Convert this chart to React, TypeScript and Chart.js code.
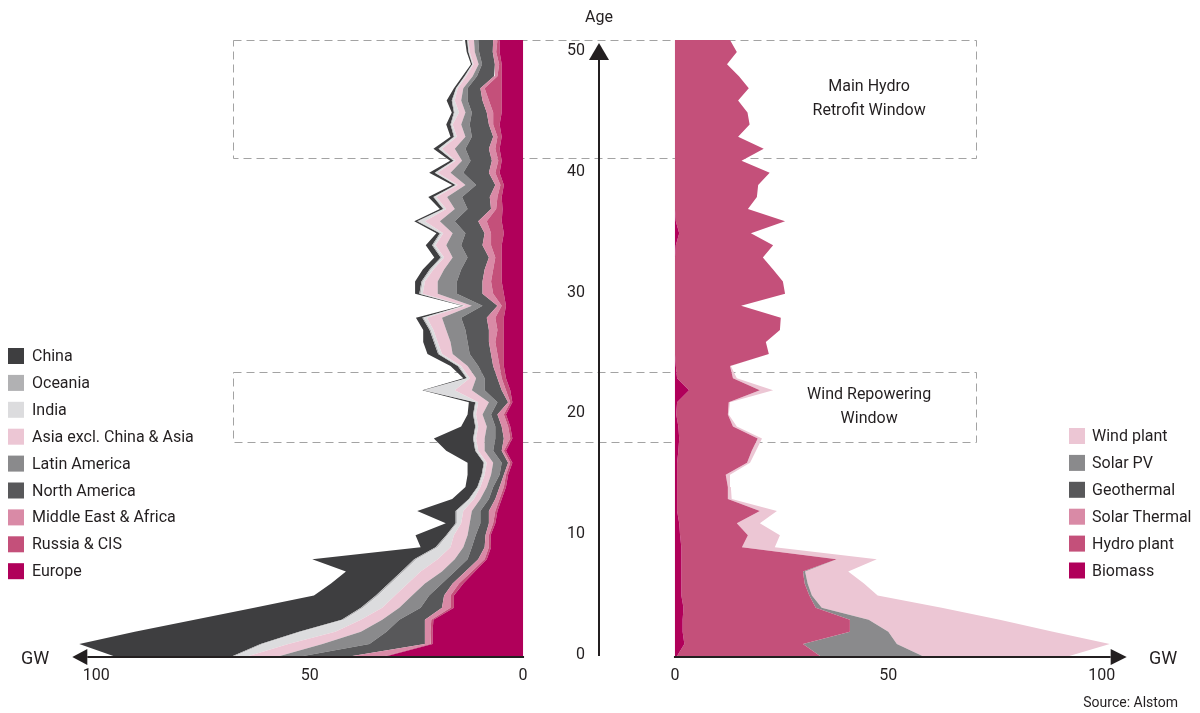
import React, { useEffect, useRef } from 'react';
import { Chart, registerables } from 'chart.js';

Chart.register(...registerables);

// ---------- data ----------
const AGES = [0, 1, 2, 3, 4, 5, 6, 7, 8, 9, 10, 11, 12, 13, 14, 15, 16, 17, 18, 19, 20, 21, 22, 23, 24, 25,
  26, 27, 28, 29, 30, 31, 32, 33, 34, 35, 36, 37, 38, 39, 40, 41, 42, 43, 44, 45, 46, 47, 48, 49, 50, 51];

const AGE_TICKS = [0, 10, 20, 30, 40, 50];
const GW_TICKS = [0, 50, 100];

// Left panel (regions), GW by age
const EUROPE = [31.8, 21.2, 21.2, 21, 16.2, 16.2, 14, 11.3, 8.5, 7.5,
  7.6, 6.5, 6, 5, 4, 3.5, 2.5, 4, 2.5, 3,
  4, 2.5, 3, 4, 4.5, 4.5, 4.5, 4.5, 4.5, 4,
  4.5, 5, 5, 5, 5, 4.5, 5, 4.8, 5, 4.5,
  5.5, 5, 5.5, 5, 5.5, 5, 5, 5, 5, 5,
  5.5, 5.5];
const RUSSIA_CIS = [0.5, 0.6, 0.5, 0.5, 0.8, 0.8, 1, 0.7, 0.5, 0.5,
  0.4, 0.5, 0.5, 0.5, 0.5, 0.5, 0.5, 0.5, 0.5, 0.5,
  0.5, 0.5, 1, 1, 1, 1.5, 2, 1.5, 2, 1,
  2.5, 2.5, 2, 1.5, 2.5, 3, 3.5, 1.5, 1, 0.8,
  1, 0.8, 1, 1, 1.5, 2, 3, 4, 1, 0.6,
  0.8, 0.5];
const MIDDLE_EAST_AFRICA = [7.7, 1.2, 1.3, 1.5, 2, 1.5, 1.5, 1.5, 1.5, 1,
  0.8, 1, 1.5, 1, 1, 0.5, 0.5, 0.5, 1.5, 1.5,
  1.5, 0.5, 1, 1, 1.5, 1.5, 1.5, 2, 2, 1,
  2.5, 2, 2, 1.5, 2, 1.5, 2, 1.2, 1.8, 1.2,
  1.5, 1.5, 1.5, 1, 1, 1.5, 1.5, 1, 0.8, 1,
  0.8, 1];
const NORTH_AMERICA = [11.5, 13, 9, 6, 5, 3.5, 2.5, 2.5, 2.5, 3,
  2.3, 2, 2, 1.5, 1.5, 1, 1.5, 2, 2, 1.5,
  1.5, 2.5, 4, 3, 3.5, 5, 5, 5.5, 6, 3.5,
  6, 6, 5.5, 5, 5, 4.5, 5.5, 5.5, 6.5, 4.5,
  6, 5, 5.5, 5, 4.5, 3.5, 3.5, 3, 4, 3,
  3.2, 3.5];
const LATIN_AMERICA = [5.5, 11, 6, 4, 5, 4, 4, 3, 3, 2,
  1.9, 2.5, 2, 2, 1.5, 2, 2, 2, 2.5, 2,
  2, 2, 3, 2, 2.5, 4, 4, 4.5, 4.5, 2.5,
  4.5, 4.5, 4, 3.5, 3.5, 3, 3.5, 3, 3.5, 2.5,
  3, 2, 2.5, 1.5, 2, 1.5, 1.5, 1, 1, 0.8,
  1, 1];
const ASIA_EXCL = [7.3, 8, 6, 5, 4, 4, 4, 5, 4, 3,
  3.2, 2, 2, 1.5, 1.5, 1.5, 1.5, 1.5, 2, 2,
  1.5, 2.5, 4, 1.5, 1.5, 2.5, 3, 3, 3.5, 1.5,
  3.5, 3, 2.5, 2, 2.5, 2.2, 3.5, 2, 2.5, 1.8,
  3, 1.5, 3, 2, 2, 1.5, 1.5, 1.3, 1.5, 1.2,
  1.2, 1.3];
const INDIA = [3.2, 6, 8, 4, 4.5, 4, 4, 4, 5, 3,
  1.5, 1, 1.5, 1, 0.5, 0.5, 0.5, 0.5, 0.5, 0.5,
  0.5, 0.5, 7, 0.5, 0.5, 0.6, 0.6, 0.6, 0.8, 0.3,
  0.5, 0.5, 0.6, 0.5, 0.5, 0.5, 1.5, 0.5, 0.5, 0.3,
  0.5, 0.3, 0.6, 0.5, 0.3, 1, 0.5, 0.3, 0.3, 0.2,
  0.2, 0.2];
const OCEANIA = [0.5, 0.5, 0.5, 0.5, 0.5, 0.5, 0.5, 0.5, 0.5, 0.5,
  0.3, 0.3, 0.3, 0.2, 0.2, 0.2, 0.2, 0.2, 0.2, 0.2,
  0.2, 0.2, 0.3, 0.2, 0.3, 0.3, 0.3, 0.3, 0.3, 0.2,
  0.3, 0.3, 0.3, 0.3, 0.3, 0.3, 0.3, 0.2, 0.2, 0.2,
  0.2, 0.2, 0.2, 0.2, 0.2, 0.2, 0.2, 0.1, 0.1, 0.1,
  0.1, 0.1];
const CHINA = [28, 42.5, 38.5, 34.5, 25, 14.5, 13.5, 13, 23.9, 3.5,
  7.2, 2.3, 9, 3.9, 2.8, 3.3, 3.8, 6.8, 9.2, 3.3,
  1.3, 1.5, 0.3, 0.8, 1.7, 2.5, 2.5, 1.5, 1.5, 0.3,
  1, 1.5, 1.6, 1.5, 1.5, 0.8, 0.7, 0.8, 1.2, 0.8,
  1.3, 0.8, 1.2, 0.8, 1, 0.5, 1.2, 0.5, 0.5, 0.3,
  0.4, 0.5];

// Right panel (technologies), GW by age
const BIOMASS = [0.5, 2.2, 1.8, 1.8, 2, 1.5, 1.5, 1.5, 1.5, 1.5,
  1.2, 1, 0.5, 0.5, 0.5, 0.5, 0.5, 0.8, 1, 0.8,
  0.3, 0.5, 3.3, 0.5, 0.2, 0, 0, 0, 0, 0,
  0, 0, 0, 0, 0.2, 1, 0.2, 0, 0, 0,
  0, 0, 0, 0, 0, 0, 0, 0, 0, 0,
  0, 0];
const HYDRO = [33.5, 27.8, 39.2, 39.2, 31, 30, 28.9, 28.5, 36.4, 14.2,
  15.9, 13.5, 19.4, 11.9, 11.9, 11.4, 16.4, 17.2, 18.4, 12.8,
  12.1, 12.1, 16.6, 13.1, 12.7, 22, 21.3, 24.6, 24.8, 15.5,
  25.8, 25.3, 23, 20.6, 22.8, 16.8, 25.6, 17.1, 19.2, 19.5,
  22.2, 15.6, 20.8, 14.8, 17.5, 17, 14.8, 17.3, 15, 12.2,
  14.5, 12.9];
const SOLAR_THERMAL = [0, 0, 0, 0, 0, 0, 0, 0, 0, 0,
  0, 0, 0, 0, 0, 0, 0, 0, 0, 0,
  0, 0, 0, 0, 0, 0, 0, 0, 0, 0,
  0, 0, 0, 0, 0, 0, 0, 0, 0, 0,
  0, 0, 0, 0, 0, 0, 0, 0, 0, 0,
  0, 0];
const GEOTHERMAL = [0, 0, 0, 0, 0, 0, 0, 0, 0, 0,
  0, 0, 0, 0, 0, 0, 0, 0, 0, 0,
  0, 0, 0, 0, 0, 0, 0, 0, 0, 0,
  0, 0, 0, 0, 0, 0, 0, 0, 0, 0,
  0, 0, 0, 0, 0, 0, 0, 0, 0, 0,
  0, 0];
const SOLAR_PV = [24, 22, 9, 4.4, 1.4, 0.6, 0.7, 0.5, 0, 0,
  0, 0, 0, 0, 0, 0, 0, 0, 0, 0,
  0, 0, 0, 0, 0, 0, 0, 0, 0, 0,
  0, 0, 0, 0, 0, 0, 0, 0, 0, 0,
  0, 0, 0, 0, 0, 0, 0, 0, 0, 0,
  0, 0];
const WIND = [34.4, 49.9, 38.6, 30.7, 28.1, 15.4, 13.2, 10.1, 9.4, 7.7,
  7.5, 5.4, 4, 0.9, 0.7, 1, 0.7, 1, 1, 0.9,
  0.2, 0.3, 3.1, 0.9, 0.2, 0, 0, 0, 0, 0,
  0, 0, 0, 0, 0, 0, 0, 0, 0, 0,
  0, 0, 0, 0, 0, 0, 0, 0, 0, 0,
  0, 0];

// Stacking order (inner -> outer)
const LEFT_LABELS = ['Europe', 'Russia & CIS', 'Middle East & Africa', 'North America', 'Latin America',
  'Asia excl. China & Asia', 'India', 'Oceania', 'China'];
const LEFT_VALUES = [EUROPE, RUSSIA_CIS, MIDDLE_EAST_AFRICA, NORTH_AMERICA, LATIN_AMERICA, ASIA_EXCL, INDIA, OCEANIA, CHINA];
const RIGHT_LABELS = ['Biomass', 'Hydro plant', 'Solar Thermal', 'Geothermal', 'Solar PV', 'Wind plant'];
const RIGHT_VALUES = [BIOMASS, HYDRO, SOLAR_THERMAL, GEOTHERMAL, SOLAR_PV, WIND];

// Annotated windows (age ranges)
const WINDOW_LABELS = [['Main Hydro', 'Retrofit Window'], ['Wind Repowering', 'Window']];
const WINDOW_FROM = [41.2, 17.75];
const WINDOW_TO = [51, 23.5];

// ---------- styles ----------
const COLORS: Record<string, string> = {
  'China': '#3e3e40',
  'Oceania': '#b1b1b3',
  'India': '#dcdcde',
  'Asia excl. China & Asia': '#ecc6d4',
  'Latin America': '#8a8a8c',
  'North America': '#58585a',
  'Middle East & Africa': '#d98aa6',
  'Russia & CIS': '#c4507a',
  'Europe': '#b0005a',
  'Wind plant': '#ecc6d4',
  'Solar PV': '#8a8a8c',
  'Geothermal': '#58585a',
  'Solar Thermal': '#d98aa6',
  'Hydro plant': '#c4507a',
  'Biomass': '#b0005a',
};

const GAP = 35.6; // GW-units of empty space between the two panels
const EXT = 105; // outer extent of each panel's value axis
const FONT = 'Roboto, "Noto Sans", sans-serif';
const INK = '#231f20';

function makeSet(label: string, values: number[], axis: string, idx: number) {
  return {
    label,
    data: values.map((v, i) => ({ x: v, y: AGES[i] })),
    xAxisID: axis,
    yAxisID: 'y',
    backgroundColor: COLORS[label],
    borderColor: 'rgba(0,0,0,0)',
    borderWidth: 0,
    fill: idx === 0 ? 'origin' : '-1',
    pointRadius: 0,
    tension: 0,
    clip: false,
    side: axis === 'xL' ? 'left' : 'right',
  };
}

const overlay = {
  id: 'overlay',
  beforeDatasetsDraw(chart: any) {
    const { ctx } = chart;
    const xL = chart.scales.xL, xR = chart.scales.x, y = chart.scales.y;
    ctx.save();
    ctx.strokeStyle = '#a3a3a3';
    ctx.lineWidth = 1;
    ctx.setLineDash([8, 5]);
    WINDOW_FROM.forEach((from, i) => {
      const x0 = Math.round(xL.getPixelForValue(68)) + 0.5;
      const x1 = Math.round(xR.getPixelForValue(70.5)) + 0.5;
      const y0 = Math.round(y.getPixelForValue(WINDOW_TO[i])) + 0.5;
      const y1 = Math.round(y.getPixelForValue(from)) + 0.5;
      ctx.strokeRect(x0, y0, x1 - x0, y1 - y0);
    });
    ctx.restore();
  },
  afterDraw(chart: any) {
    const { ctx } = chart;
    const xL = chart.scales.xL, xR = chart.scales.x, y = chart.scales.y;
    const y0 = y.getPixelForValue(0);
    const ax = xL.getPixelForValue(-GAP / 2);
    ctx.save();
    ctx.fillStyle = INK;
    ctx.strokeStyle = INK;

    // Age axis
    const tip = y.getPixelForValue(51) + 3;
    ctx.lineWidth = 2;
    ctx.beginPath();
    ctx.moveTo(ax, y0);
    ctx.lineTo(ax, tip + 12);
    ctx.stroke();
    ctx.beginPath();
    ctx.moveTo(ax, tip);
    ctx.lineTo(ax - 10, tip + 17);
    ctx.lineTo(ax + 10, tip + 17);
    ctx.closePath();
    ctx.fill();

    ctx.font = `16px ${FONT}`;
    ctx.textAlign = 'center';
    ctx.textBaseline = 'middle';
    ctx.fillText('Age', ax, 18);
    ctx.textAlign = 'right';
    AGE_TICKS.forEach((a) => ctx.fillText(String(a), ax - 14, y.getPixelForValue(a) - 1));

    // GW axes
    const ly = y0 + 1;
    const lEnd = xL.getPixelForValue(100) - 9;
    ctx.beginPath();
    ctx.moveTo(xL.getPixelForValue(0) + 1, ly);
    ctx.lineTo(lEnd, ly);
    ctx.stroke();
    ctx.beginPath();
    ctx.moveTo(lEnd - 15, ly);
    ctx.lineTo(lEnd, ly - 8);
    ctx.lineTo(lEnd, ly + 8);
    ctx.closePath();
    ctx.fill();

    const rEnd = xR.getPixelForValue(100) + 9;
    ctx.beginPath();
    ctx.moveTo(xR.getPixelForValue(0) - 1, ly);
    ctx.lineTo(rEnd, ly);
    ctx.stroke();
    ctx.beginPath();
    ctx.moveTo(rEnd + 16, ly);
    ctx.lineTo(rEnd, ly - 8);
    ctx.lineTo(rEnd, ly + 8);
    ctx.closePath();
    ctx.fill();

    ctx.textAlign = 'center';
    ctx.font = `16px ${FONT}`;
    GW_TICKS.forEach((g) => {
      ctx.fillText(String(g), xL.getPixelForValue(g), y0 + 20);
      ctx.fillText(String(g), xR.getPixelForValue(g), y0 + 20);
    });
    ctx.font = `18px ${FONT}`;
    ctx.fillText('GW', 35, y0 + 3);
    ctx.fillText('GW', 1163, y0 + 3);

    // Window labels
    ctx.font = `16px ${FONT}`;
    WINDOW_LABELS.forEach((lines, i) => {
      const cy = (y.getPixelForValue(WINDOW_FROM[i]) + y.getPixelForValue(WINDOW_TO[i])) / 2;
      const cx = xR.getPixelForValue(45.5);
      ctx.fillText(lines[0], cx, cy - 12);
      ctx.fillText(lines[1], cx, cy + 12);
    });

    // Legends
    ctx.textAlign = 'left';
    ctx.font = `16px ${FONT}`;
    const sets = chart.data.datasets;
    const leftSets = sets.filter((d: any) => d.side === 'left').slice().reverse();
    const rightSets = sets.filter((d: any) => d.side === 'right').slice().reverse();
    leftSets.forEach((d: any, i: number) => {
      const cy = 356 + i * 26.9;
      ctx.fillStyle = d.backgroundColor;
      ctx.fillRect(8, cy - 8, 16, 16);
      ctx.fillStyle = INK;
      ctx.fillText(d.label, 32, cy + 1);
    });
    rightSets.forEach((d: any, i: number) => {
      const cy = 436 + i * 26.9;
      ctx.fillStyle = d.backgroundColor;
      ctx.fillRect(1069, cy - 8, 16, 16);
      ctx.fillStyle = INK;
      ctx.fillText(d.label, 1092, cy + 1);
    });

    // Source
    ctx.textAlign = 'right';
    ctx.font = `14px ${FONT}`;
    ctx.fillText('Source: Alstom', 1178, 703);
    ctx.restore();
  },
};

export default function App() {
  const ref = useRef<HTMLCanvasElement | null>(null);
  useEffect(() => {
    if (!ref.current) return;
    const datasets = [
      ...LEFT_LABELS.map((l, i) => makeSet(l, LEFT_VALUES[i], 'xL', i)),
      ...RIGHT_LABELS.map((l, i) => makeSet(l, RIGHT_VALUES[i], 'x', i)),
    ];
    const chart = new Chart(ref.current, {
      type: 'line',
      data: { datasets } as any,
      options: {
        animation: false,
        responsive: true,
        maintainAspectRatio: false,
        indexAxis: 'y',
        layout: { padding: { left: 75, right: 77, top: 40, bottom: 57 } },
        plugins: {
          legend: { display: false },
          tooltip: { enabled: false },
          filler: { propagate: false },
        },
        scales: {
          xL: { type: 'linear', axis: 'x', reverse: true, min: -(EXT + GAP), max: EXT, display: false, stacked: true },
          x: { type: 'linear', min: -(EXT + GAP), max: EXT, display: false, stacked: true },
          y: { type: 'linear', min: 0, max: 51, display: false },
        },
      } as any,
      plugins: [overlay],
    });
    return () => chart.destroy();
  }, []);
  return (
    <div style={{ position: 'fixed', left: 0, top: 0, width: 1200, height: 713, background: '#fff' }}>
      <canvas ref={ref} />
    </div>
  );
}
